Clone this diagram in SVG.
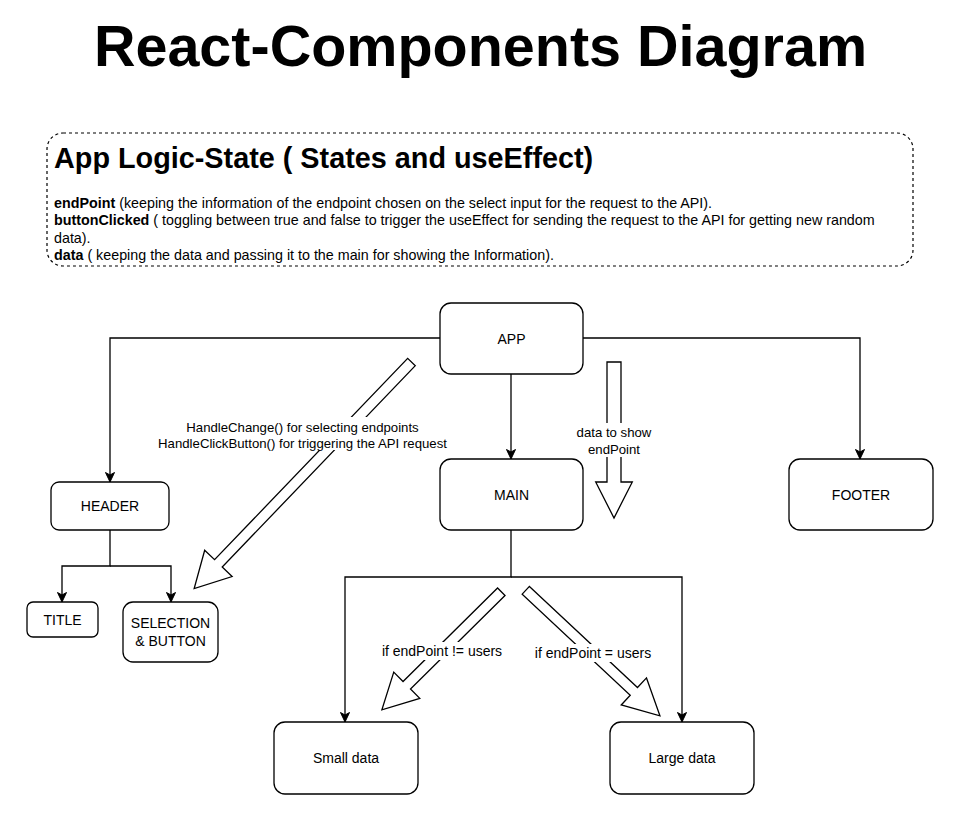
<svg xmlns="http://www.w3.org/2000/svg" width="959" height="836" viewBox="0 0 959 836">
<style>
text{font-family:"Liberation Sans",Arial,sans-serif;fill:#000}
.box{fill:#fff;stroke:#000;stroke-width:1.3}
.lbl{font-size:14px;text-anchor:middle;dominant-baseline:central}
.elbl{font-size:13.2px;text-anchor:middle;dominant-baseline:central}
.edge{fill:none;stroke:#000;stroke-width:1.3}
.blk{fill:#fff;stroke:#000;stroke-width:1.3;stroke-linejoin:miter}
.bg{fill:#fff}
</style>
<defs>
<marker id="arr" markerWidth="12" markerHeight="12" refX="10" refY="5" orient="auto" markerUnits="userSpaceOnUse">
<path d="M0.5,0.5 L10,5 L0.5,9.5 L3,5 Z" fill="#000" stroke="#000" stroke-width="1"/>
</marker>
</defs>
<rect width="959" height="836" fill="#fff"/>
<text x="480.5" y="66" font-size="57.5" font-weight="bold" text-anchor="middle">React-Components Diagram</text>

<g id="state-box">
<rect x="47" y="133" width="866" height="133" rx="16" fill="#fff" stroke="#000" stroke-width="1.2" stroke-dasharray="3,3"/>
<text x="54" y="168" font-size="28.8" font-weight="bold">App Logic-State ( States and useEffect)</text>
<text font-size="14.3">
<tspan x="54" y="207.5"><tspan font-weight="bold">endPoint</tspan> (keeping the information of the endpoint chosen on the select input for the request to the API).</tspan>
<tspan x="54" y="225"><tspan font-weight="bold">buttonClicked</tspan> ( toggling between true and false to trigger the useEffect for sending the request to the API for getting new random</tspan>
<tspan x="54" y="242.5">data).</tspan>
<tspan x="54" y="260"><tspan font-weight="bold">data</tspan> ( keeping the data and passing it to the main for showing the Information).</tspan>
</text>
</g>

<g id="connectors">
<path class="edge" d="M440,338 H110 V482" marker-end="url(#arr)"/>
<path class="edge" d="M583,338 H860 V459" marker-end="url(#arr)"/>
<path class="edge" d="M511,374 V459" marker-end="url(#arr)"/>
<path class="edge" d="M110,530 V566 H62 V602" marker-end="url(#arr)"/>
<path class="edge" d="M110,566 H171 V602" marker-end="url(#arr)"/>
<path class="edge" d="M511,530 V577 H345 V722" marker-end="url(#arr)"/>
<path class="edge" d="M511,577 H682 V722" marker-end="url(#arr)"/>

<g id="flow-handlers">
<polygon class="blk" transform="translate(411.5,362) rotate(133.8)" points="0,-5.3 279,-5.3 279,-19 314,0 279,19 279,5.3 0,5.3"/>
<rect class="bg" x="157" y="417" width="292" height="33"/>
<text class="elbl" x="302.5" y="427">HandleChange() for selecting endpoints</text>
<text class="elbl" x="302.5" y="443">HandleClickButton() for triggering the API request</text>
</g>
<g id="flow-data">
<polygon class="blk" points="607,362 621,362 621,482 632.3,482 614,518 595.7,482 607,482"/>
<rect class="bg" x="576" y="423" width="76" height="34"/>
<text class="elbl" x="614" y="432">data to show</text>
<text class="elbl" x="614" y="449">endPoint</text>
</g>
<g id="flow-small">
<polygon class="blk" transform="translate(501.3,591.7) rotate(135.3)" points="0,-5.3 133,-5.3 133,-18.5 168,0 133,18.5 133,5.3 0,5.3"/>
<rect class="bg" x="379" y="642" width="126" height="18"/>
<text class="lbl" x="442" y="651">if endPoint != users</text>
</g>
<g id="flow-large">
<polygon class="blk" transform="translate(525.8,590.3) rotate(43.1)" points="0,-5.3 148,-5.3 148,-18.5 183.7,0 148,18.5 148,5.3 0,5.3"/>
<rect class="bg" x="532" y="644" width="122" height="18"/>
<text class="lbl" x="593" y="653">if endPoint = users</text>
</g>
</g>

<g id="app"><rect class="box" x="440" y="303" width="143" height="71" rx="11"/><text class="lbl" x="511.5" y="338.5">APP</text></g>
<g id="header"><rect class="box" x="51" y="482" width="118" height="48" rx="8"/><text class="lbl" x="110" y="506">HEADER</text></g>
<g id="title"><rect class="box" x="27" y="602" width="71" height="35" rx="6"/><text class="lbl" x="62.5" y="619.5">TITLE</text></g>
<g id="selection"><rect class="box" x="123" y="602" width="95" height="60" rx="10"/><text class="lbl" x="170.5" y="623">SELECTION</text><text class="lbl" x="170.5" y="641">&amp; BUTTON</text></g>
<g id="main"><rect class="box" x="440" y="459" width="143" height="71" rx="11"/><text class="lbl" x="511.5" y="494.5">MAIN</text></g>
<g id="footer"><rect class="box" x="789" y="459" width="144" height="71" rx="11"/><text class="lbl" x="861" y="494.5">FOOTER</text></g>
<g id="small-data"><rect class="box" x="274" y="722" width="144" height="72" rx="11"/><text class="lbl" x="346" y="758">Small data</text></g>
<g id="large-data"><rect class="box" x="610" y="722" width="144" height="72" rx="11"/><text class="lbl" x="682" y="758">Large data</text></g>
</svg>
